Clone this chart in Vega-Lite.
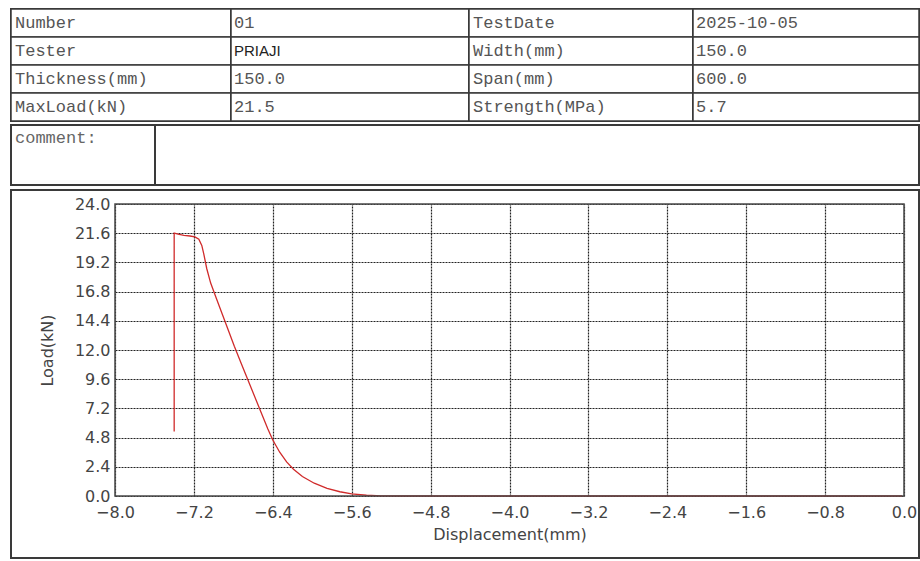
{
  "$schema": "https://vega.github.io/schema/vega-lite/v6.json",
  "background": "white",
  "padding": {"left": 9, "top": 7, "right": 1, "bottom": 2},
  "config": {
    "view": {"stroke": "#3a3a3a", "strokeWidth": 2},
    "text": {"font": "Liberation Mono", "fontSize": 17, "fill": "#555"}
  },
  "datasets": {
    "cells": [
      {"c": "A", "r": 1, "t": "Number"},
      {"c": "A", "r": 2, "t": "Tester"},
      {"c": "A", "r": 3, "t": "Thickness(mm)"},
      {"c": "A", "r": 4, "t": "MaxLoad(kN)"},
      {"c": "B", "r": 1, "t": "01"},
      {"c": "B", "r": 2, "t": "PRIAJI"},
      {"c": "B", "r": 3, "t": "150.0"},
      {"c": "B", "r": 4, "t": "21.5"},
      {"c": "C", "r": 1, "t": "TestDate"},
      {"c": "C", "r": 2, "t": "Width(mm)"},
      {"c": "C", "r": 3, "t": "Span(mm)"},
      {"c": "C", "r": 4, "t": "Strength(MPa)"},
      {"c": "D", "r": 1, "t": "2025-10-05"},
      {"c": "D", "r": 2, "t": "150.0"},
      {"c": "D", "r": 3, "t": "600.0"},
      {"c": "D", "r": 4, "t": "5.7"}
    ],
    "comment": [
      {"c": "L", "t": "comment:"},
      {"c": "R", "t": ""}
    ],
    "curve": [
      {"i": 0, "d": -7.40, "l": 5.3},
      {"i": 1, "d": -7.40, "l": 21.6},
      {"i": 2, "d": -7.35, "l": 21.5},
      {"i": 3, "d": -7.30, "l": 21.42},
      {"i": 4, "d": -7.24, "l": 21.37},
      {"i": 5, "d": -7.19, "l": 21.3},
      {"i": 6, "d": -7.15, "l": 21.1},
      {"i": 7, "d": -7.12, "l": 20.6},
      {"i": 8, "d": -7.10, "l": 19.9},
      {"i": 9, "d": -7.07, "l": 18.7},
      {"i": 10, "d": -7.03, "l": 17.5},
      {"i": 11, "d": -6.97, "l": 16.2},
      {"i": 12, "d": -6.91, "l": 14.9},
      {"i": 13, "d": -6.85, "l": 13.6},
      {"i": 14, "d": -6.79, "l": 12.3},
      {"i": 15, "d": -6.72, "l": 10.9},
      {"i": 16, "d": -6.65, "l": 9.5},
      {"i": 17, "d": -6.58, "l": 8.1},
      {"i": 18, "d": -6.51, "l": 6.7},
      {"i": 19, "d": -6.45, "l": 5.5},
      {"i": 20, "d": -6.40, "l": 4.6},
      {"i": 21, "d": -6.33, "l": 3.6},
      {"i": 22, "d": -6.26, "l": 2.8},
      {"i": 23, "d": -6.19, "l": 2.2},
      {"i": 24, "d": -6.10, "l": 1.6},
      {"i": 25, "d": -5.98, "l": 1.05},
      {"i": 26, "d": -5.85, "l": 0.62},
      {"i": 27, "d": -5.72, "l": 0.35},
      {"i": 28, "d": -5.60, "l": 0.18},
      {"i": 29, "d": -5.45, "l": 0.06},
      {"i": 30, "d": -5.30, "l": 0.01},
      {"i": 31, "d": -5.10, "l": 0.0},
      {"i": 32, "d": -0.02, "l": 0.0}
    ]
  },
  "spacing": 3,
  "vconcat": [
    {
      "spacing": 0,
      "vconcat": [
        {
          "spacing": 0,
          "bounds": "flush",
          "hconcat": [
            {
              "width": 220, "height": 112,
              "data": {"name": "cells"},
              "transform": [{"filter": "datum.c === 'A'"}],
              "encoding": {
                "x": {"field": "c", "type": "nominal", "axis": null, "scale": {"type": "band", "paddingInner": 0, "paddingOuter": 0}, "bandPosition": 0},
                "y": {"field": "r", "type": "ordinal", "axis": null, "scale": {"type": "band", "paddingInner": 0, "paddingOuter": 0}}
              },
              "layer": [
                {"mark": {"type": "rect", "fill": "white", "stroke": "#3a3a3a", "strokeWidth": 1.5}, "encoding": {"x": {"field": "c", "type": "nominal", "axis": null}}},
                {"mark": {"type": "text", "align": "left", "baseline": "middle", "dx": 4, "dy": 0}, "encoding": {"text": {"field": "t"}}}
              ]
            },
            {
              "width": 238, "height": 112,
              "data": {"name": "cells"},
              "transform": [{"filter": "datum.c === 'B'"}],
              "encoding": {
                "x": {"field": "c", "type": "nominal", "axis": null, "scale": {"type": "band", "paddingInner": 0, "paddingOuter": 0}, "bandPosition": 0},
                "y": {"field": "r", "type": "ordinal", "axis": null, "scale": {"type": "band", "paddingInner": 0, "paddingOuter": 0}}
              },
              "layer": [
                {"mark": {"type": "rect", "fill": "white", "stroke": "#3a3a3a", "strokeWidth": 1.5}, "encoding": {"x": {"field": "c", "type": "nominal", "axis": null}}},
                {"transform": [{"filter": "datum.t !== 'PRIAJI'"}], "mark": {"type": "text", "align": "left", "baseline": "middle", "dx": 3, "dy": 0}, "encoding": {"text": {"field": "t"}}},
                {"transform": [{"filter": "datum.t === 'PRIAJI'"}], "mark": {"type": "text", "align": "left", "baseline": "middle", "dx": 3, "dy": 0, "font": "Liberation Sans", "fontSize": 15, "fill": "#222"}, "encoding": {"text": {"field": "t"}}}
              ]
            },
            {
              "width": 224, "height": 112,
              "data": {"name": "cells"},
              "transform": [{"filter": "datum.c === 'C'"}],
              "encoding": {
                "x": {"field": "c", "type": "nominal", "axis": null, "scale": {"type": "band", "paddingInner": 0, "paddingOuter": 0}, "bandPosition": 0},
                "y": {"field": "r", "type": "ordinal", "axis": null, "scale": {"type": "band", "paddingInner": 0, "paddingOuter": 0}}
              },
              "layer": [
                {"mark": {"type": "rect", "fill": "white", "stroke": "#3a3a3a", "strokeWidth": 1.5}, "encoding": {"x": {"field": "c", "type": "nominal", "axis": null}}},
                {"mark": {"type": "text", "align": "left", "baseline": "middle", "dx": 4, "dy": 0}, "encoding": {"text": {"field": "t"}}}
              ]
            },
            {
              "width": 226, "height": 112,
              "data": {"name": "cells"},
              "transform": [{"filter": "datum.c === 'D'"}],
              "encoding": {
                "x": {"field": "c", "type": "nominal", "axis": null, "scale": {"type": "band", "paddingInner": 0, "paddingOuter": 0}, "bandPosition": 0},
                "y": {"field": "r", "type": "ordinal", "axis": null, "scale": {"type": "band", "paddingInner": 0, "paddingOuter": 0}}
              },
              "layer": [
                {"mark": {"type": "rect", "fill": "white", "stroke": "#3a3a3a", "strokeWidth": 1.5}, "encoding": {"x": {"field": "c", "type": "nominal", "axis": null}}},
                {"mark": {"type": "text", "align": "left", "baseline": "middle", "dx": 3, "dy": 0}, "encoding": {"text": {"field": "t"}}}
              ]
            }
          ]
        },
        {
          "spacing": 0,
          "bounds": "flush",
          "hconcat": [
            {
              "width": 144, "height": 60,
              "data": {"name": "comment"},
              "transform": [{"filter": "datum.c === 'L'"}],
              "mark": {"type": "text", "align": "left", "baseline": "top", "dx": 4, "dy": 5, "fill": "#666"},
              "encoding": {
                "x": {"field": "c", "type": "nominal", "axis": null, "scale": {"type": "band", "paddingInner": 0, "paddingOuter": 0}, "bandPosition": 0},
                "y": {"field": "c", "type": "nominal", "axis": null, "scale": {"type": "band", "paddingInner": 0, "paddingOuter": 0}, "bandPosition": 0},
                "text": {"field": "t"}
              }
            },
            {
              "width": 764, "height": 60,
              "data": {"name": "comment"},
              "transform": [{"filter": "datum.c === 'R'"}],
              "mark": {"type": "text", "align": "left", "baseline": "top"},
              "encoding": {
                "x": {"field": "c", "type": "nominal", "axis": null, "scale": {"type": "band", "paddingInner": 0, "paddingOuter": 0}, "bandPosition": 0},
                "y": {"field": "c", "type": "nominal", "axis": null, "scale": {"type": "band", "paddingInner": 0, "paddingOuter": 0}, "bandPosition": 0},
                "text": {"field": "t"}
              }
            }
          ]
        }
      ]
    },
    {
      "width": 908,
      "height": 368,
      "resolve": {"axis": {"x": "independent"}},
      "layer": [
        {
          "data": {"name": "curve"},
          "mark": {"type": "line", "color": "#d02b2b", "strokeWidth": 1.3, "clip": true},
          "encoding": {
            "x": {
              "field": "d", "type": "quantitative",
              "scale": {"domain": [-8, 0], "range": [104, 893], "nice": false, "zero": false},
              "axis": {
                "orient": "bottom", "offset": -62,
                "values": [-8, -7.2, -6.4, -5.6, -4.8, -4, -3.2, -2.4, -1.6, -0.8, 0],
                "tickCount": 20,
                "format": ".1f", "title": "Displacement(mm)",
                "grid": false,
                "ticks": false, "domain": false,
                "labelFont": "DejaVu Sans", "labelFontSize": 16, "labelColor": "#444", "labelPadding": 8,
                "labelOverlap": false, "labelFlush": false,
                "titleFont": "DejaVu Sans", "titleFontSize": 16, "titleFontWeight": "normal", "titleColor": "#444", "titlePadding": 6
              }
            },
            "y": {
              "field": "l", "type": "quantitative",
              "scale": {"domain": [0, 24], "range": [306, 14], "nice": false, "zero": false},
              "axis": {
                "orient": "left", "offset": -104,
                "values": [0, 2.4, 4.8, 7.2, 9.6, 12, 14.4, 16.8, 19.2, 21.6, 24],
                "tickCount": 20,
                "format": ".1f", "title": "Load(kN)",
                "grid": true, "gridColor": "#222", "gridDash": [2, 1], "gridWidth": 1.2, "gridOpacity": 1,
                "ticks": false, "domain": false,
                "labelFont": "DejaVu Sans", "labelFontSize": 16, "labelColor": "#444", "labelPadding": 5,
                "labelOverlap": false, "labelFlush": false,
                "titleFont": "DejaVu Sans", "titleFontSize": 16, "titleFontWeight": "normal", "titleColor": "#444", "titlePadding": 19
              }
            },
            "order": {"field": "i", "type": "quantitative"}
          }
        },
        {
          "data": {"values": [{"frame": "plot"}]},
          "mark": {"type": "rect", "fillOpacity": 0, "stroke": "#4a4a4a", "strokeWidth": 1.5},
          "encoding": {
            "x": {
              "datum": -8, "type": "quantitative",
              "axis": {
                "orient": "top", "offset": -14,
                "values": [-8, -7.2, -6.4, -5.6, -4.8, -4, -3.2, -2.4, -1.6, -0.8, 0],
                "tickCount": 20,
                "grid": true, "gridColor": "#222", "gridDash": [2, 1], "gridWidth": 1.2, "gridOpacity": 1,
                "ticks": false, "domain": false, "labels": false, "title": null
              }
            },
            "x2": {"datum": 0},
            "y": {"datum": 0, "type": "quantitative"},
            "y2": {"datum": 24}
          }
        }
      ]
    }
  ]
}
